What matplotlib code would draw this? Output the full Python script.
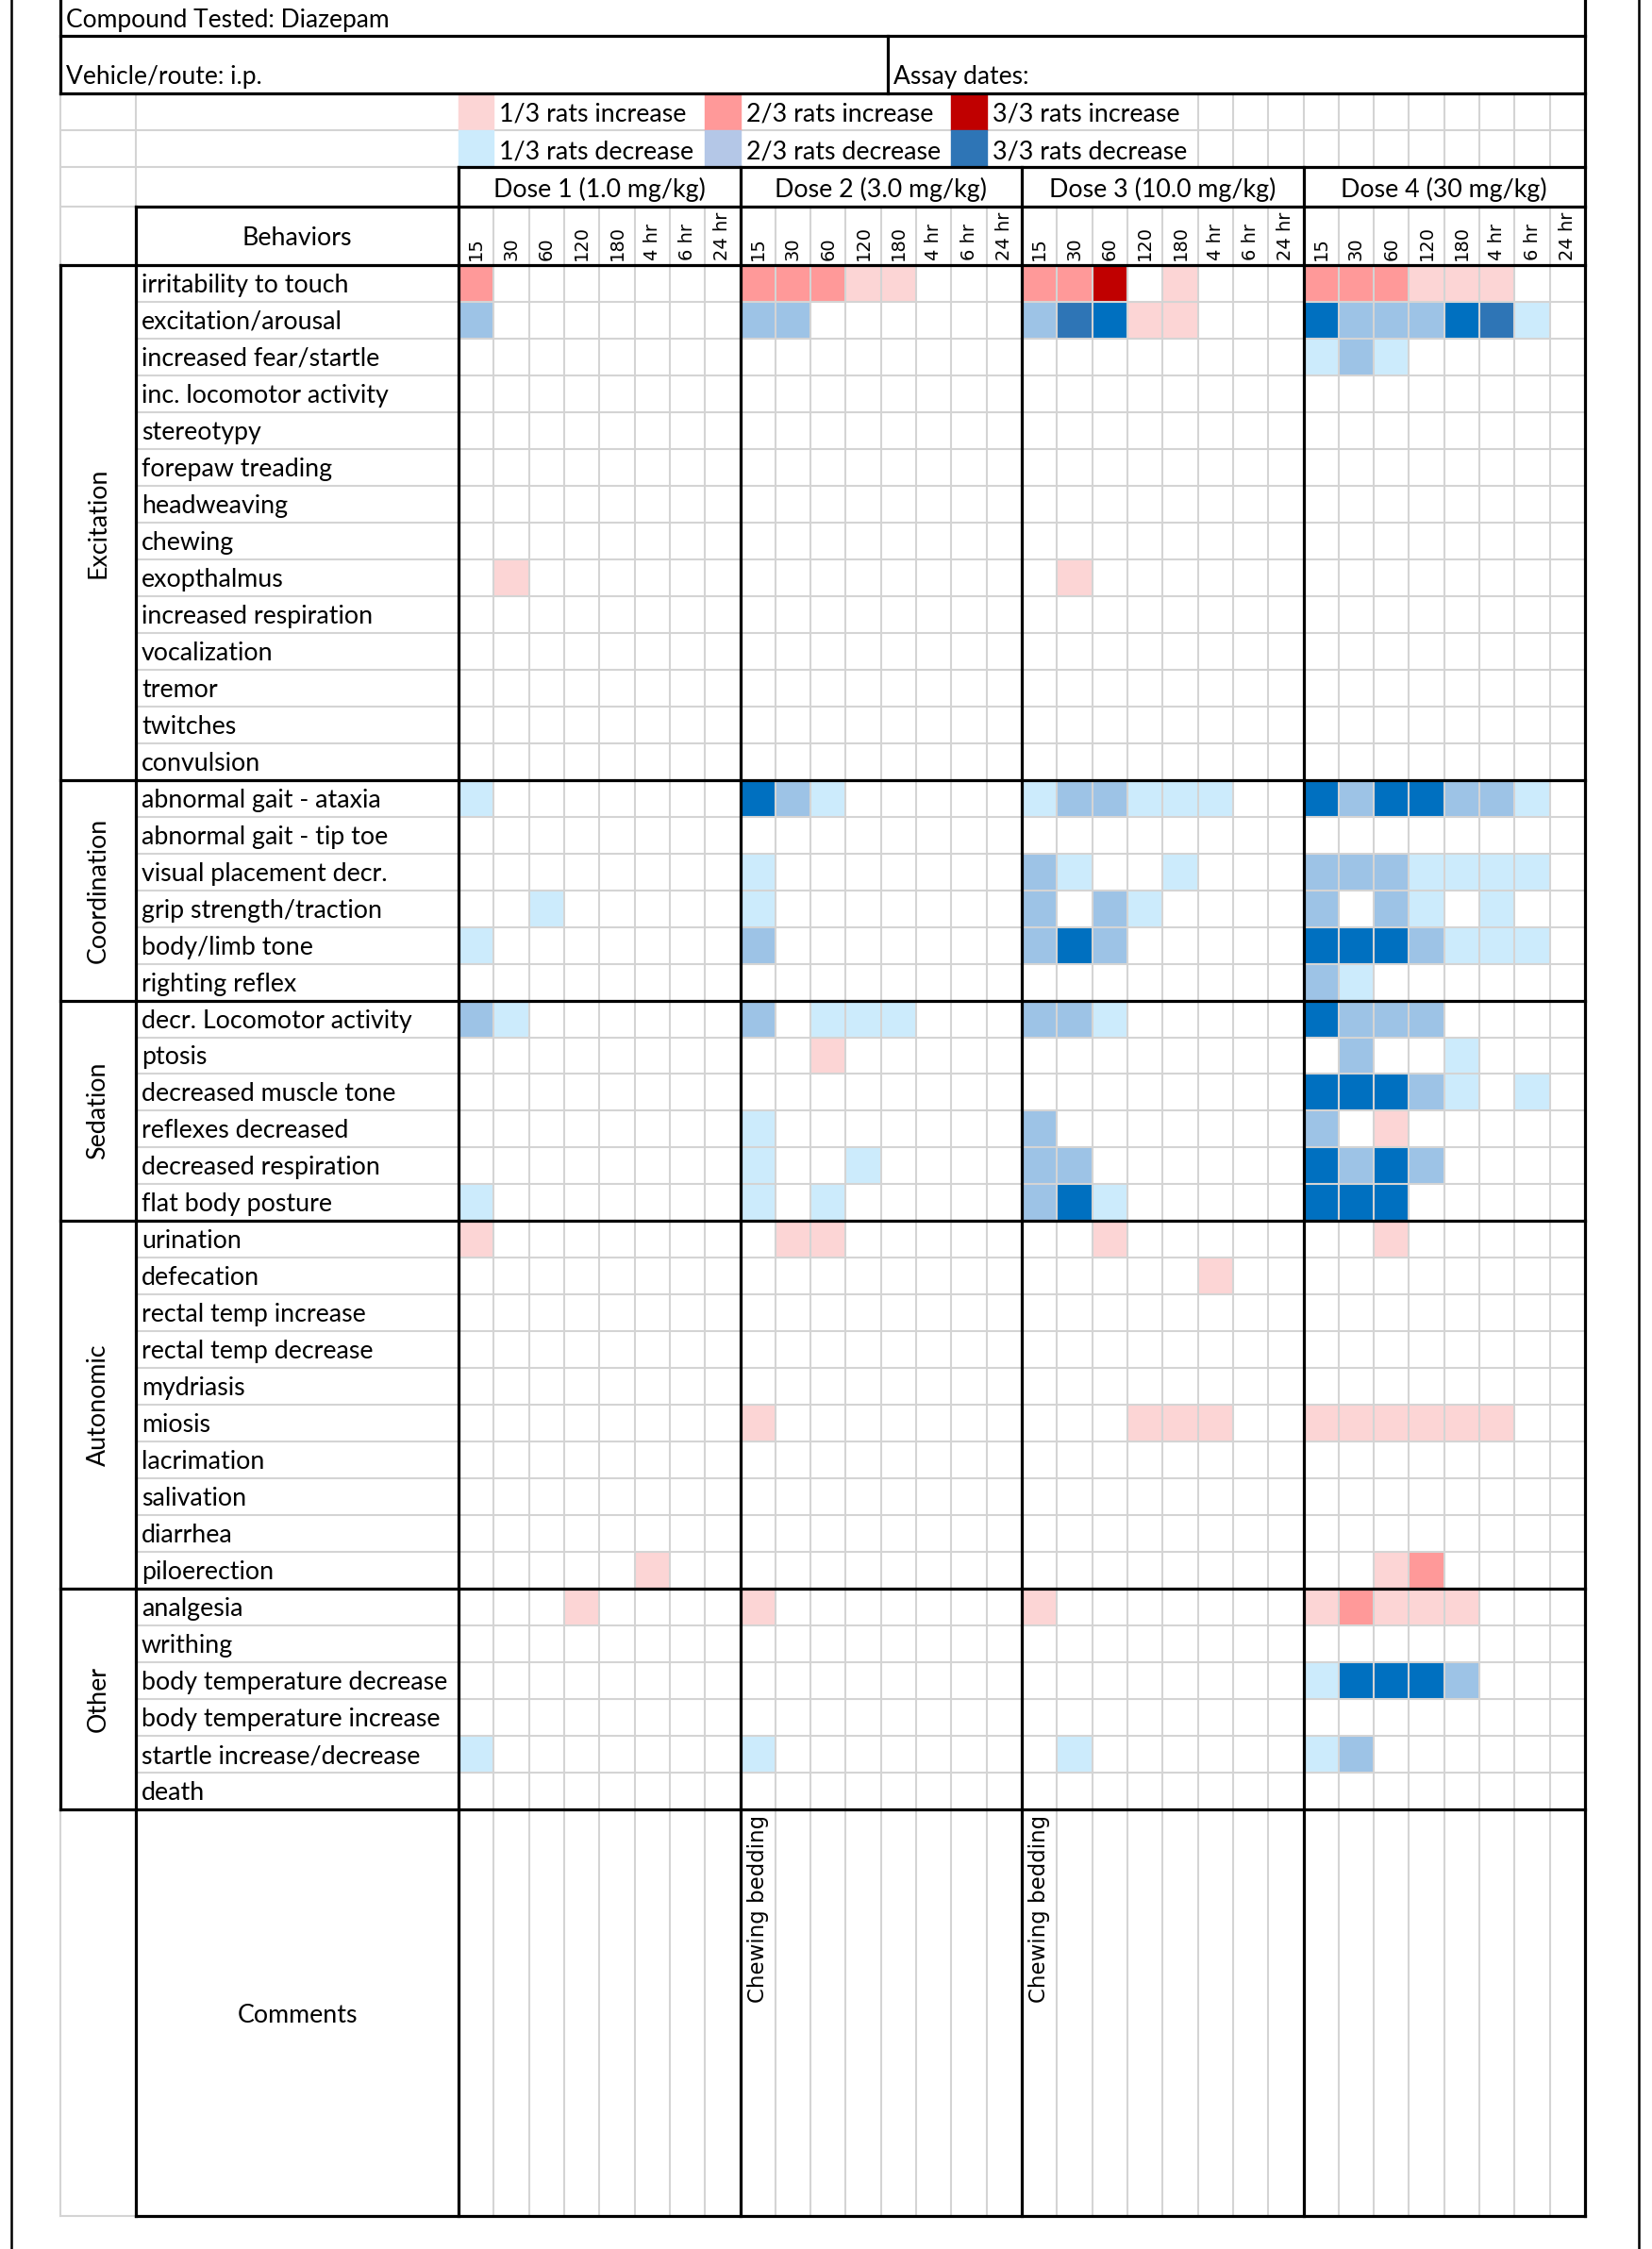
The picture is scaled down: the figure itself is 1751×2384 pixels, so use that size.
import numpy as np
import matplotlib
matplotlib.use("Agg")
import matplotlib.pyplot as plt
from matplotlib.colors import ListedColormap, BoundaryNorm

# ---- data ----
compound = "Compound Tested: Diazepam"
vehicle = "Vehicle/route: i.p."
assay = "Assay dates:"
doses = ["Dose 1 (1.0 mg/kg)", "Dose 2 (3.0 mg/kg)", "Dose 3 (10.0 mg/kg)", "Dose 4 (30 mg/kg)"]
times = ["15", "30", "60", "120", "180", "4 hr", "6 hr", "24 hr"]
groups = ["Excitation", "Coordination", "Sedation", "Autonomic", "Other"]
group_sizes = [14, 6, 6, 10, 6]
behaviors = [
    "irritability to touch", "excitation/arousal", "increased fear/startle",
    "inc. locomotor activity", "stereotypy", "forepaw treading", "headweaving",
    "chewing", "exopthalmus", "increased respiration", "vocalization", "tremor",
    "twitches", "convulsion",
    "abnormal gait - ataxia", "abnormal gait - tip toe", "visual placement decr.",
    "grip strength/traction", "body/limb tone", "righting reflex",
    "decr. Locomotor activity", "ptosis", "decreased muscle tone",
    "reflexes decreased", "decreased respiration", "flat body posture",
    "urination", "defecation", "rectal temp increase", "rectal temp decrease",
    "mydriasis", "miosis", "lacrimation", "salivation", "diarrhea", "piloerection",
    "analgesia", "writhing", "body temperature decrease",
    "body temperature increase", "startle increase/decrease", "death",
]
# score per cell: +n = n/3 rats increase, -n = n/3 rats decrease,
# -4 = 3/3 decrease drawn in the legend's blue
Z = [0] * 8
scores = [
    [2,0,0,0,0,0,0,0] + [2,2,2,1,1,0,0,0] + [2,2,3,0,1,0,0,0] + [2,2,2,1,1,1,0,0],
    [-2,0,0,0,0,0,0,0] + [-2,-2,0,0,0,0,0,0] + [-2,-4,-3,1,1,0,0,0] + [-3,-2,-2,-2,-3,-4,-1,0],
    Z + Z + Z + [-1,-2,-1,0,0,0,0,0],
    Z + Z + Z + Z,
    Z + Z + Z + Z,
    Z + Z + Z + Z,
    Z + Z + Z + Z,
    Z + Z + Z + Z,
    [0,1,0,0,0,0,0,0] + Z + [0,1,0,0,0,0,0,0] + Z,
    Z + Z + Z + Z,
    Z + Z + Z + Z,
    Z + Z + Z + Z,
    Z + Z + Z + Z,
    Z + Z + Z + Z,
    [-1,0,0,0,0,0,0,0] + [-3,-2,-1,0,0,0,0,0] + [-1,-2,-2,-1,-1,-1,0,0] + [-3,-2,-3,-3,-2,-2,-1,0],
    Z + Z + Z + Z,
    Z + [-1,0,0,0,0,0,0,0] + [-2,-1,0,0,-1,0,0,0] + [-2,-2,-2,-1,-1,-1,-1,0],
    [0,0,-1,0,0,0,0,0] + [-1,0,0,0,0,0,0,0] + [-2,0,-2,-1,0,0,0,0] + [-2,0,-2,-1,0,-1,0,0],
    [-1,0,0,0,0,0,0,0] + [-2,0,0,0,0,0,0,0] + [-2,-3,-2,0,0,0,0,0] + [-3,-3,-3,-2,-1,-1,-1,0],
    Z + Z + Z + [-2,-1,0,0,0,0,0,0],
    [-2,-1,0,0,0,0,0,0] + [-2,0,-1,-1,-1,0,0,0] + [-2,-2,-1,0,0,0,0,0] + [-3,-2,-2,-2,0,0,0,0],
    Z + [0,0,1,0,0,0,0,0] + Z + [0,-2,0,0,-1,0,0,0],
    Z + Z + Z + [-3,-3,-3,-2,-1,0,-1,0],
    Z + [-1,0,0,0,0,0,0,0] + [-2,0,0,0,0,0,0,0] + [-2,0,1,0,0,0,0,0],
    Z + [-1,0,0,-1,0,0,0,0] + [-2,-2,0,0,0,0,0,0] + [-3,-2,-3,-2,0,0,0,0],
    [-1,0,0,0,0,0,0,0] + [-1,0,-1,0,0,0,0,0] + [-2,-3,-1,0,0,0,0,0] + [-3,-3,-3,0,0,0,0,0],
    [1,0,0,0,0,0,0,0] + [0,1,1,0,0,0,0,0] + [0,0,1,0,0,0,0,0] + [0,0,1,0,0,0,0,0],
    Z + Z + [0,0,0,0,0,1,0,0] + Z,
    Z + Z + Z + Z,
    Z + Z + Z + Z,
    Z + Z + Z + Z,
    Z + [1,0,0,0,0,0,0,0] + [0,0,0,1,1,1,0,0] + [1,1,1,1,1,1,0,0],
    Z + Z + Z + Z,
    Z + Z + Z + Z,
    Z + Z + Z + Z,
    [0,0,0,0,0,1,0,0] + Z + Z + [0,0,1,2,0,0,0,0],
    [0,0,0,1,0,0,0,0] + [1,0,0,0,0,0,0,0] + [1,0,0,0,0,0,0,0] + [1,2,1,1,1,0,0,0],
    Z + Z + Z + Z,
    Z + Z + Z + [-1,-3,-3,-3,-2,0,0,0],
    Z + Z + Z + Z,
    [-1,0,0,0,0,0,0,0] + [-1,0,0,0,0,0,0,0] + [0,-1,0,0,0,0,0,0] + [-1,-2,0,0,0,0,0,0],
    Z + Z + Z + Z,
]
comments = {1: "Chewing bedding", 2: "Chewing bedding"}  # dose index -> note in first column
legend_items = [("1/3 rats increase", "#FCD5D5"), ("2/3 rats increase", "#FF9999"),
                ("3/3 rats increase", "#C00000"), ("1/3 rats decrease", "#CCEBFC"),
                ("2/3 rats decrease", "#B4C7E7"), ("3/3 rats decrease", "#2E75B6")]

# ---- sheet geometry (pixels) ----
W, H = 1751, 2384
X_OUT_L, X_OUT_R = 12, 1737
X_T, X_LAB, X_DATA, X_END = 64, 144, 486, 1680
X_ASSAY = 941
COL_W = (X_END - X_DATA) / 32
DOSE_W = COL_W * 8
Y1, Y2, Y3, Y4, Y5, Y_DATA = 38, 99, 138, 177, 219, 281
Y_DEND = 1918
ROW_H = (Y_DEND - Y_DATA) / 42
Y_CEND = 2349
GRAY = "#D4D4D4"
LW_T, LW_G = 2.3, 1.5
CAL = ["Lato", "DejaVu Sans"]
VER = ["DejaVu Sans"]

fig = plt.figure(figsize=(W / 100, H / 100), dpi=100)
ax = fig.add_axes([0, 0, 1, 1])
ax.set_xlim(0, W)
ax.set_ylim(H, 0)
ax.axis("off")


def hline(y, x0, x1, thick=False):
    ax.plot([x0, x1], [y, y], color="black" if thick else GRAY,
            lw=LW_T if thick else LW_G, solid_capstyle="projecting",
            zorder=4 if thick else 2)


def vline(x, y0, y1, thick=False):
    ax.plot([x, x], [y0, y1], color="black" if thick else GRAY,
            lw=LW_T if thick else LW_G, solid_capstyle="projecting",
            zorder=4 if thick else 2)


col_x = X_DATA + np.arange(33) * COL_W
row_y = Y_DATA + np.arange(43) * ROW_H

# cell fills
codes = [-4, -3, -2, -1, 0, 1, 2, 3]
cmap = ListedColormap(["#2E75B6", "#0070C0", "#9DC3E6", "#CCEBFC", "white",
                       "#FCD5D5", "#FF9999", "#C00000"])
norm = BoundaryNorm(np.array(codes + [4]) - 0.5, cmap.N)
vals = np.array(scores, dtype=float)
ax.pcolormesh(col_x, row_y, vals, cmap=cmap, norm=norm, zorder=1)

# outer page lines
ax.plot([X_OUT_L, X_OUT_L], [0, H], color="black", lw=1.8, zorder=4)
ax.plot([X_OUT_R, X_OUT_R], [0, H], color="black", lw=1.8, zorder=4)

# title rows
hline(Y1, X_T, X_END, True)
hline(Y2, X_T, X_END, True)
vline(X_T, 0, Y2, True)
vline(X_ASSAY, Y1, Y2, True)
ax.text(X_T + 6, Y1 / 2 + 2, compound, family=CAL, fontsize=19, va="center")
ax.text(X_T + 6, Y2 - 17, vehicle, family=CAL, fontsize=19, va="center")
ax.text(X_ASSAY + 6, Y2 - 17, assay, family=CAL, fontsize=19, va="center")

# legend rows
vline(X_T, Y2, Y_DATA)
vline(X_LAB, Y2, Y5)
hline(Y3, X_T, X_END)
hline(Y4, X_T, X_DATA)
hline(Y5, X_T, X_LAB)
swatch_cols = [0, 7, 14]
for i, (lab, colr) in enumerate(legend_items):
    r, c = divmod(i, 3)
    x0 = col_x[swatch_cols[c]]
    y0 = Y2 if r == 0 else Y3
    ax.add_patch(plt.Rectangle((x0, y0), COL_W, Y3 - Y2, color=colr, zorder=3))
    ax.text(x0 + COL_W + 6, y0 + (Y3 - Y2) / 2 + 3, lab, family=CAL, fontsize=19.3,
            va="center", zorder=5)
for c in range(21, 32):
    vline(col_x[c], Y2, Y4)

# dose titles and time headers
for d, name in enumerate(doses):
    xd = X_DATA + d * DOSE_W
    ax.text(xd + DOSE_W / 2, (Y4 + Y5) / 2 + 3, name, family=CAL, fontsize=19.3,
            ha="center", va="center")
    vline(xd, Y4, Y_CEND, True)
    for k, t in enumerate(times):
        ax.text(xd + (k + 0.5) * COL_W, Y_DATA - 5, t, family=VER, fontsize=14,
                rotation=90, ha="center", va="bottom")
vline(X_END, 0, Y_CEND, True)
hline(Y4, X_DATA, X_END, True)
hline(Y5, X_LAB, X_END, True)
vline(X_LAB, Y5, Y_CEND, True)
ax.text((X_LAB + X_DATA) / 2, (Y5 + Y_DATA) / 2 + 3, "Behaviors", family=CAL,
        fontsize=19.3, ha="center", va="center")

# body grid
for c in range(33):
    if c % 8:
        vline(col_x[c], Y5, Y_CEND)
for r in range(1, 42):
    hline(row_y[r], X_LAB, X_END)
for r, lab in enumerate(behaviors):
    ax.text(X_LAB + 6, row_y[r] + ROW_H / 2 + 2, lab, family=CAL, fontsize=19.3,
            va="center", zorder=5)

start = 0
hline(Y_DATA, X_T, X_END, True)
vline(X_T, Y_DATA, Y_DEND, True)
for g, n in zip(groups, group_sizes):
    y0, y1 = row_y[start], row_y[start + n]
    hline(y1, X_T, X_END, True)
    ax.text((X_T + X_LAB) / 2, (y0 + y1) / 2, g, family=CAL, fontsize=19.3,
            rotation=90, ha="center", va="center")
    start += n

# comments block
vline(X_T, Y_DEND, Y_CEND)
hline(Y_CEND, X_T, X_LAB)
hline(Y_CEND, X_LAB, X_END, True)
ax.text((X_LAB + X_DATA) / 2, (Y_DEND + Y_CEND) / 2 + 3, "Comments", family=CAL,
        fontsize=19.3, ha="center", va="center")
for d, note in comments.items():
    ax.text(X_DATA + d * DOSE_W + COL_W / 2, Y_DEND + 6, note, family=VER,
            fontsize=16.5, rotation=90, ha="center", va="top", zorder=5)

fig.savefig("out.png", dpi=100, facecolor="white")
